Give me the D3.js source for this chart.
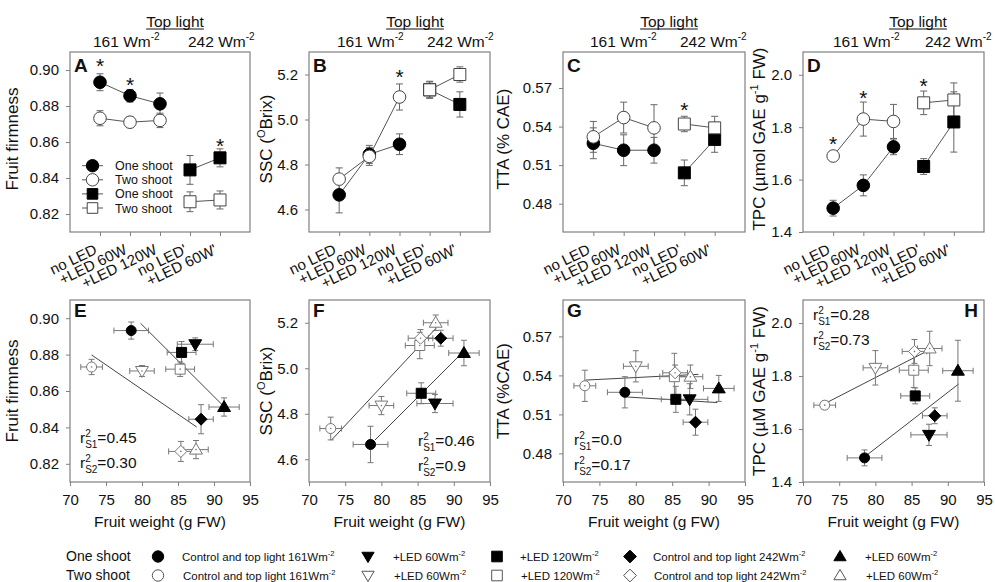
<!DOCTYPE html>
<html>
<head>
<meta charset="utf-8">
<script src="https://d3js.org/d3.v7.min.js"></script>
<style>
body { margin: 0; background: #fff; }
svg text { font-family: Arial, "Liberation Sans", sans-serif; fill: #111; }
</style>
</head>
<body>
<svg id="chart" width="995" height="582"></svg>
<script>
// ---- data ----
const cats = ["no LED", "+LED 60W", "+LED 120W", "no LED'", "+LED 60W'"];
const shapes = ["circle", "triDown", "square", "diamond", "triUp"];
const legendLabels = ["Control and top light 161Wm", "+LED 60Wm", "+LED 120Wm", "Control and top light 242Wm", "+LED 60Wm"];

// fruit weight (g FW), x of the lower panels
const weightOne = [78.5, 87.4, 85.5, 88.2, 91.4];
const weightOneErr = [2.4, 2.5, 2.0, 1.7, 2.1];
const weightTwo = [73.0, 80.0, 85.3, 85.4, 87.5];
const weightTwoErr = [1.5, 1.7, 2.0, 1.7, 1.7];

// fruit firmness
const firmOne = [0.8932, 0.8857, 0.8812, 0.8445, 0.8512];
const firmOneErr = [0.0047, 0.0035, 0.006, 0.008, 0.005];
const firmTwo = [0.8732, 0.8710, 0.8720, 0.8268, 0.8278];
const firmTwoErr = [0.0042, 0.003, 0.004, 0.0055, 0.005];
const firmStars = [[0, 0.9044], [1, 0.8937], [4, 0.8602]];
const firmFits = [[[79.8, 0.8972], [91.2, 0.8522]], [[73.0, 0.8798], [87.6, 0.8402]]];
const firmR2 = ["0.45", "0.30"];

// SSC
const sscOne = [4.665, 4.845, 4.89, 5.132, 5.067];
const sscOneErr = [0.08, 0.04, 0.046, 0.035, 0.056];
const sscTwo = [4.735, 4.836, 5.10, 5.132, 5.20];
const sscTwoErr = [0.05, 0.04, 0.058, 0.038, 0.034];
const sscStars = [[2, 5.208]];
const sscFits = [[[73.1, 4.684], [87.6, 5.178]], [[79.1, 4.684], [91.2, 5.069]]];
const sscR2 = ["0.46", "0.9"];

// TTA
const ttaOne = [0.527, 0.5216, 0.5216, 0.504, 0.530];
const ttaOneErr = [0.012, 0.012, 0.010, 0.010, 0.010];
const ttaTwo = [0.532, 0.547, 0.539, 0.542, 0.539];
const ttaTwoErr = [0.012, 0.012, 0.018, 0.006, 0.009];
const ttaStars = [[3, 0.5562]];
const ttaFits = [[[73.1, 0.5364], [88.6, 0.5408]], [[78.5, 0.5235], [91.2, 0.5191]]];
const ttaR2 = ["0.0", "0.17"];

// TPC
const tpcOne = [1.491, 1.578, 1.725, 1.65, 1.82];
const tpcOneErr = [0.03, 0.04, 0.03, 0.03, 0.115];
const tpcTwo = [1.69, 1.831, 1.822, 1.893, 1.904];
const tpcTwoErr = [0.015, 0.065, 0.065, 0.045, 0.065];
const tpcStars = [[0, 1.753], [1, 1.926], [3, 1.972]];
const tpcFits = [[[73.3, 1.70], [87.4, 1.898]], [[78.7, 1.499], [91.5, 1.77]]];
const tpcR2 = ["0.28", "0.73"];

const weightTicks = [70, 75, 80, 85, 90, 95];

// ---- layout ----
const svg = d3.select('#chart');
const TOP = [52, 232], BOT = [300, 482];
const cols = [[70, 250], [309, 490], [563, 745], [803, 984]];
const GRAY = '#808080';

const panels = [
  {top: 'A', bot: 'E', domain: [0.81, 0.91], ticks: [0.82, 0.84, 0.86, 0.88, 0.90], fmt: '.2f',
   one: firmOne, oneErr: firmOneErr, two: firmTwo, twoErr: firmTwoErr, stars: firmStars, fits: firmFits, r2: firmR2,
   title: [["Fruit firmness"]], titleB: [["Fruit firmness"]], titleX: 18,
   head: [175, 93, 188], r2pos: [80, 443]},
  {top: 'B', bot: 'F', domain: [4.5, 5.3], ticks: [4.6, 4.8, 5.0, 5.2], fmt: '.1f',
   one: sscOne, oneErr: sscOneErr, two: sscTwo, twoErr: sscTwoErr, stars: sscStars, fits: sscFits, r2: sscR2,
   title: [["SSC ("], ["O", "sup"], ["Brix)"]], titleB: [["SSC ("], ["O", "sup"], ["Brix)"]], titleX: 272,
   head: [415, 337, 427], r2pos: [418, 446]},
  {top: 'C', bot: 'G', domain: [0.458, 0.598], ticks: [0.48, 0.51, 0.54, 0.57], fmt: '.2f',
   one: ttaOne, oneErr: ttaOneErr, two: ttaTwo, twoErr: ttaTwoErr, stars: ttaStars, fits: ttaFits, r2: ttaR2,
   title: [["TTA (% CAE)"]], titleB: [["TTA (%CAE)"]], titleX: 509,
   head: [669, 590, 680], r2pos: [574, 445]},
  {top: 'D', bot: 'H', domain: [1.4, 2.087], ticks: [1.4, 1.6, 1.8, 2.0], fmt: '.1f',
   one: tpcOne, oneErr: tpcOneErr, two: tpcTwo, twoErr: tpcTwoErr, stars: tpcStars, fits: tpcFits, r2: tpcR2,
   title: [["TPC (µmol GAE g"], ["-1", "sup"], [" FW)"]], titleB: [["TPC (µM GAE g"], ["-1", "sup"], [" FW)"]], titleX: 765,
   head: [918, 833, 925], r2pos: [813, 320]}
];

function markerPath(type, s) {
  if (type === 'circle') return d3.symbol(d3.symbolCircle, Math.PI * s * s)();
  if (type === 'square') return `M${-s},${-s}H${s}V${s}H${-s}Z`;
  if (type === 'diamond') { const d = s * 1.2; return `M0,${-d}L${d},0L0,${d}L${-d},0Z`; }
  if (type === 'triUp') return `M0,${-s * 1.15}L${s * 1.15},${s * 0.8}L${-s * 1.15},${s * 0.8}Z`;
  return `M0,${s * 1.15}L${s * 1.15},${-s * 0.8}L${-s * 1.15},${-s * 0.8}Z`;
}

function marker(g, type, x, y, s, filled, stroke) {
  g.append('path').attr('d', markerPath(type, s))
    .attr('transform', `translate(${x},${y})`)
    .attr('fill', filled ? '#000' : '#fff')
    .attr('stroke', filled ? '#000' : (stroke || '#444'))
    .attr('stroke-width', 1);
}

function rich(t, parts, fs) {
  let shift = 0;
  parts.forEach(([s, k]) => {
    const target = k === 'sup' ? -fs * 0.4 : 0;
    t.append('tspan').attr('dy', target - shift)
      .style('font-size', (k ? fs * 0.65 : fs) + 'px').text(s);
    shift = target;
  });
}

function vErr(g, x, y, v, e, cap) {
  g.append('line').attr('x1', x).attr('x2', x).attr('y1', y(v - e)).attr('y2', y(v + e));
  [v - e, v + e].forEach(b => g.append('line').attr('x1', x - cap).attr('x2', x + cap).attr('y1', y(b)).attr('y2', y(b)));
}

function yTitle(p, parts, cy) {
  const t = svg.append('text').attr('text-anchor', 'middle')
    .attr('transform', `translate(${p.titleX},${cy}) rotate(-90)`)
    .attr('dy', '0.35em').style('font-size', '17px');
  rich(t, parts, 17);
}

function styleAxis(a) {
  a.select('.domain').remove();
  a.selectAll('.tick line').attr('stroke', GRAY);
  a.selectAll('.tick text').style('font-size', '15px').attr('fill', '#111')
    .style('font-family', 'Arial, "Liberation Sans", sans-serif');
}

function frame(x0, x1, y0, y1) {
  svg.append('rect').attr('x', x0).attr('y', y0).attr('width', x1 - x0).attr('height', y1 - y0)
    .attr('fill', 'none').attr('stroke', GRAY).attr('stroke-width', 1.2);
}

panels.forEach((p, k) => {
  const [x0, x1] = cols[k];

  // ---------- top row: treatment means ----------
  const x = d3.scalePoint().domain(cats).range([x0, x1]).padding(1);
  const y = d3.scaleLinear().domain(p.domain).range([TOP[1], TOP[0]]);

  const ax = svg.append('g').attr('transform', `translate(0,${TOP[1]})`)
    .call(d3.axisBottom(x).tickSize(4).tickFormat(''));
  styleAxis(ax);
  const ay = svg.append('g').attr('transform', `translate(${x0},0)`)
    .call(d3.axisLeft(y).tickValues(p.ticks).tickSize(4).tickPadding(7).tickFormat(d3.format(p.fmt)));
  styleAxis(ay);
  frame(x0, x1, TOP[0], TOP[1]);

  cats.forEach(c => {
    svg.append('text').attr('text-anchor', 'end')
      .attr('transform', `translate(${x(c) - 2},253) rotate(-26)`)
      .style('font-size', '15px').text(c);
  });

  // header
  const hy = svg.append('g');
  const tl = hy.append('text').attr('x', p.head[0]).attr('y', 27).attr('text-anchor', 'middle')
    .style('font-size', '15.5px').text('Top light');
  const w = tl.node().getComputedTextLength();
  hy.append('line').attr('x1', p.head[0] - w / 2).attr('x2', p.head[0] + w / 2)
    .attr('y1', 29).attr('y2', 29).attr('stroke', '#111').attr('stroke-width', 1);
  rich(hy.append('text').attr('x', p.head[1]).attr('y', 46.5), [["161 Wm"], ["-2", "sup"]], 15.5);
  rich(hy.append('text').attr('x', p.head[2]).attr('y', 46.5), [["242 Wm"], ["-2", "sup"]], 15.5);

  yTitle(p, p.title, (TOP[0] + TOP[1]) / 2 - 3);

  svg.append('text').attr('x', x0 + 4).attr('y', TOP[0] + 20)
    .style('font-size', '19px').style('font-weight', 'bold').text(p.top);

  const g = svg.append('g');
  const groups = [
    {idx: [0, 1, 2], vals: p.one, err: p.oneErr, type: 'circle', filled: true},
    {idx: [3, 4], vals: p.one, err: p.oneErr, type: 'square', filled: true},
    {idx: [0, 1, 2], vals: p.two, err: p.twoErr, type: 'circle', filled: false},
    {idx: [3, 4], vals: p.two, err: p.twoErr, type: 'square', filled: false}
  ];
  const line = d3.line().x(i => x(cats[i]));
  groups.forEach(s => {
    g.append('path').attr('d', line.y(i => y(s.vals[i]))(s.idx))
      .attr('fill', 'none').attr('stroke', '#555').attr('stroke-width', 1);
  });
  const eg = g.append('g').attr('stroke', '#666').attr('stroke-width', 1);
  groups.forEach(s => s.idx.forEach(i => vErr(eg, x(cats[i]), y, s.vals[i], s.err[i], 3.5)));
  groups.forEach(s => s.idx.forEach(i =>
    marker(g, s.type, x(cats[i]), y(s.vals[i]), s.type === 'circle' ? 6.3 : 6, s.filled)));

  p.stars.forEach(([i, v]) => {
    svg.append('text').attr('x', x(cats[i])).attr('y', y(v) + 11).attr('text-anchor', 'middle')
      .style('font-size', '21px').text('*');
  });

  // ---------- bottom row: against fruit weight ----------
  const bx = d3.scaleLinear().domain([70, 95]).range([x0, x1]);
  const by = d3.scaleLinear().domain(p.domain).range([BOT[1], BOT[0]]);

  const bax = svg.append('g').attr('transform', `translate(0,${BOT[1]})`)
    .call(d3.axisBottom(bx).tickValues(weightTicks).tickSize(4).tickPadding(8));
  styleAxis(bax);
  const bay = svg.append('g').attr('transform', `translate(${x0},0)`)
    .call(d3.axisLeft(by).tickValues(p.ticks).tickSize(4).tickPadding(7).tickFormat(d3.format(p.fmt)));
  styleAxis(bay);
  frame(x0, x1, BOT[0], BOT[1]);

  svg.append('text').attr('x', (x0 + x1) / 2).attr('y', 527).attr('text-anchor', 'middle')
    .style('font-size', '15.5px').text('Fruit weight (g FW)');
  yTitle(p, p.titleB, (BOT[0] + BOT[1]) / 2);

  const lab = svg.append('text').attr('y', BOT[0] + 17)
    .style('font-size', '19px').style('font-weight', 'bold').text(p.bot);
  if (p.bot === 'H') lab.attr('x', x1 - 6).attr('text-anchor', 'end'); else lab.attr('x', x0 + 4);

  const bg = svg.append('g');
  p.fits.forEach(f => {
    bg.append('line').attr('x1', bx(f[0][0])).attr('y1', by(f[0][1]))
      .attr('x2', bx(f[1][0])).attr('y2', by(f[1][1]))
      .attr('stroke', '#444').attr('stroke-width', 1);
  });
  const beg = bg.append('g').attr('stroke', '#777').attr('stroke-width', 1);
  const pts = [];
  shapes.forEach((sh, i) => {
    pts.push({sh, wx: weightOne[i], we: weightOneErr[i], v: p.one[i], e: p.oneErr[i], filled: true});
    pts.push({sh, wx: weightTwo[i], we: weightTwoErr[i], v: p.two[i], e: p.twoErr[i], filled: false});
  });
  pts.forEach(d => {
    vErr(beg, bx(d.wx), by, d.v, d.e, 3);
    const yy = by(d.v);
    beg.append('line').attr('x1', bx(d.wx - d.we)).attr('x2', bx(d.wx + d.we)).attr('y1', yy).attr('y2', yy);
    [d.wx - d.we, d.wx + d.we].forEach(b =>
      beg.append('line').attr('x1', bx(b)).attr('x2', bx(b)).attr('y1', yy - 3).attr('y2', yy + 3));
  });
  pts.filter(d => d.filled).concat(pts.filter(d => !d.filled)).forEach(d => {
    const s = d.sh === 'circle' ? 5 : d.sh === 'square' ? 5 : d.sh === 'diamond' ? 5 : 5.6;
    marker(bg, d.sh, bx(d.wx), by(d.v), s, d.filled, '#777');
    if (!d.filled) bg.append('circle').attr('cx', bx(d.wx)).attr('cy', by(d.v)).attr('r', 0.8).attr('fill', '#777');
  });

  // r squared labels
  p.r2.forEach((r, j) => {
    const t = svg.append('text').attr('x', p.r2pos[0]).attr('y', p.r2pos[1] + j * 25).style('font-size', '15.5px');
    t.append('tspan').text('r');
    t.append('tspan').attr('dy', -6).style('font-size', '10px').text('2');
    t.append('tspan').attr('dx', -5.6).attr('dy', 11).style('font-size', '10px').text('S' + (j + 1));
    t.append('tspan').attr('dy', -5).text('=' + r);
  });
});

// legend inside panel A
const la = svg.append('g');
const laItems = [['circle', true, 'One shoot'], ['circle', false, 'Two shoot'], ['square', true, 'One shoot'], ['square', false, 'Two shoot']];
laItems.forEach(([sh, f, label], i) => {
  const yy = 165.7 + i * 14.1;
  la.append('line').attr('x1', 82).attr('x2', 103).attr('y1', yy).attr('y2', yy).attr('stroke', '#555');
  marker(la, sh, 92.5, yy, sh === 'circle' ? 6.2 : 5.3, f);
  la.append('text').attr('x', 115).attr('y', yy + 4.5).style('font-size', '12.5px').text(label);
});

// legend at the bottom
const lb = svg.append('g');
const lbMarkX = [158, 368, 497, 630, 840];
const lbTextX = [182, 393, 520, 653, 865];
[['One shoot', true, 556.5], ['Two shoot', false, 575.5]].forEach(([name, f, yy], r) => {
  lb.append('text').attr('x', 66).attr('y', yy + 4.5).style('font-size', '14px').text(name);
  shapes.forEach((sh, i) => {
    marker(lb, sh, lbMarkX[i], yy, sh === 'circle' ? 5.7 : 5.3, f, '#555');
    rich(lb.append('text').attr('x', lbTextX[i] + r).attr('y', yy + 4), [[legendLabels[i]], ["-2", "sup"]], 11.5);
  });
});
</script>
</body>
</html>
